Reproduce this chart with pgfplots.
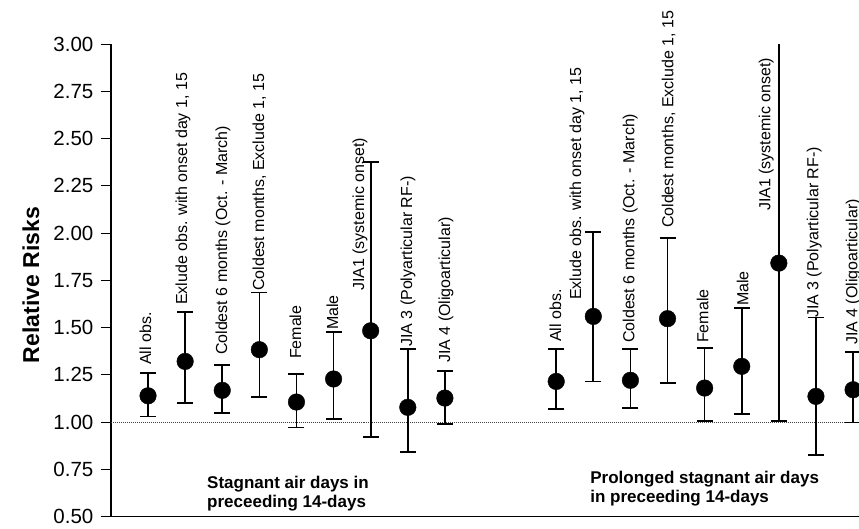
\documentclass[border=0pt]{standalone}
\usepackage{pgfplots}
\usepackage{pgfplotstable}
\pgfplotsset{compat=1.18}
\usepackage{fontspec}
\setmainfont{Liberation Sans}

\pgfplotstableread{
x rr lo hi
1 1.139 1.030 1.259
2 1.321 1.102 1.582
3 1.168 1.048 1.302
4 1.383 1.131 1.686
5 1.106 0.972 1.254
6 1.228 1.017 1.475
7 1.483 0.922 2.376
8 1.078 0.840 1.386
9 1.127 0.989 1.271
}\stagnant

\pgfplotstableread{
x rr lo hi
12 1.215 1.069 1.386
13 1.559 1.215 2.005
14 1.221 1.074 1.388
15 1.547 1.206 1.974
16 1.180 1.005 1.392
17 1.295 1.044 1.603
18 1.841 1.007 3.100
19 1.136 0.827 1.554
20 1.171 0.998 1.370
}\prolonged

\begin{document}
\begin{tikzpicture}
\begin{axis}[
  name=ax,
  x=37.1bp, y=189bp,
  xmin=0, xmax=20.16, ymin=0.5, ymax=3.0,
  axis lines*=left,
  axis line style={line width=1.3bp, -},
  xtick=\empty,
  ytick={0.5,0.75,1,1.25,1.5,1.75,2,2.25,2.5,2.75,3},
  /pgf/number format/assume math mode=true,
  yticklabel style={font=\fontsize{20.5bp}{22bp}\selectfont, xshift=-4bp,
    /pgf/number format/.cd, fixed, fixed zerofill, precision=2},
  tick align=outside,
  major tick length=10bp,
  tick style={line width=1bp, black},
  clip marker paths=false,
]
\addplot[densely dotted, black!75, line width=1bp, forget plot] coordinates {(0,1) (20.16,1)};

\addplot[only marks, mark=*, mark size=8.3bp, black,
  error bars/.cd, y dir=both, y explicit,
  error bar style={line width=1.7bp, black},
  error mark options={line width=1.7bp, mark size=8bp, black, rotate=90}]
  table[x=x, y=rr, y error plus expr=\thisrow{hi}-\thisrow{rr}, y error minus expr=\thisrow{rr}-\thisrow{lo}] {\stagnant};

\addplot[only marks, mark=*, mark size=8.3bp, black,
  error bars/.cd, y dir=both, y explicit,
  error bar style={line width=1.7bp, black},
  error mark options={line width=1.7bp, mark size=8bp, black, rotate=90}]
  table[x=x, y=rr, y error plus expr=\thisrow{hi}-\thisrow{rr}, y error minus expr=\thisrow{rr}-\thisrow{lo}] {\prolonged};

\coordinate (a1) at (axis cs:1.013,1.302);
\coordinate (a2) at (axis cs:1.983,1.619);
\coordinate (a3) at (axis cs:3.062,1.354);
\coordinate (a4) at (axis cs:4.059,1.693);
\coordinate (a5) at (axis cs:5.056,1.333);
\coordinate (a6) at (axis cs:6.053,1.487);
\coordinate (a7) at (axis cs:6.754,1.693);
\coordinate (a8) at (axis cs:8.048,1.397);
\coordinate (a9) at (axis cs:9.072,1.312);
\coordinate (b1) at (axis cs:12.064,1.423);
\coordinate (b2) at (axis cs:12.603,1.646);
\coordinate (b3) at (axis cs:14.032,1.418);
\coordinate (b4) at (axis cs:15.083,2.026);
\coordinate (b5) at (axis cs:16.027,1.418);
\coordinate (b6) at (axis cs:17.105,1.614);
\coordinate (b7) at (axis cs:17.698,2.116);
\coordinate (b8) at (axis cs:18.991,1.550);
\coordinate (b9) at (axis cs:20.043,1.407);
\coordinate (t1) at (axis cs:2.590,0.714);
\coordinate (t2) at (axis cs:12.914,0.741);
\coordinate (yl) at (axis cs:-2.155,1.725);
\end{axis}

\begin{scope}[every node/.style={rotate=90, anchor=mid west, inner sep=0pt, font=\fontsize{16bp}{18bp}\selectfont}]
\node at (a1) {All obs.};
\node at (a2) {Exlude obs. with onset day 1, 15};
\node at (a3) {Coldest 6 months (Oct. - March)};
\node at (a4) {Coldest months, Exclude 1, 15};
\node at (a5) {Female};
\node at (a6) {Male};
\node at (a7) {JIA1 (systemic onset)};
\node at (a8) {JIA 3 (Polyarticular RF-)};
\node at (a9) {JIA 4 (Oligoarticular)};
\node at (b1) {All obs.};
\node at (b2) {Exlude obs. with onset day 1, 15};
\node at (b3) {Coldest 6 months (Oct. - March)};
\node at (b4) {Coldest months, Exclude 1, 15};
\node at (b5) {Female};
\node at (b6) {Male};
\node at (b7) {JIA1 (systemic onset)};
\node at (b8) {JIA 3 (Polyarticular RF-)};
\node at (b9) {JIA 4 (Oligoarticular)};
\end{scope}

\node[anchor=north west, inner sep=0pt, align=left, font=\bfseries\fontsize{17bp}{18.5bp}\selectfont] at (t1) {Stagnant air days in\\preceeding 14-days};
\node[anchor=north west, inner sep=0pt, align=left, font=\bfseries\fontsize{17bp}{18.5bp}\selectfont] at (t2) {Prolonged stagnant air days\\in preceeding 14-days};
\node[rotate=90, font=\bfseries\fontsize{23bp}{25bp}\selectfont] at (yl) {Relative Risks};

\pgfresetboundingbox
\path[use as bounding box] ([xshift=-110.9bp, yshift=-11.5bp]ax.south west) rectangle ([yshift=44bp]ax.north east);
\end{tikzpicture}
\end{document}
